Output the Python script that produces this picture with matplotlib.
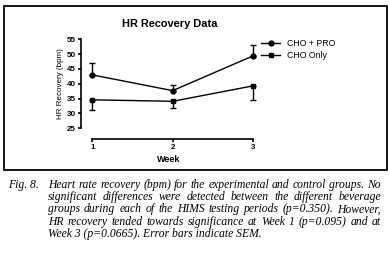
import matplotlib
matplotlib.use('Agg')
import matplotlib.pyplot as plt
from matplotlib.patches import Rectangle
from matplotlib.lines import Line2D

weeks = [1, 2, 3]
cho_pro = [43.0, 37.7, 49.4]
cho_pro_sem = [3.9, 2.0, 3.7]
cho_only = [34.6, 34.1, 39.3]
cho_only_sem = [3.4, 2.3, 4.7]

caption_lines = [
    "Heart rate recovery (bpm) for the experimental and control groups. No",
    "significant differences were detected between the different beverage",
    "groups during each of the HIMS testing periods (p=0.350). However,",
    "HR recovery tended towards significance at Week 1 (p=0.095) and at",
    "Week 3 (p=0.0665). Error bars indicate SEM.",
]

W, H = 389, 257
fig = plt.figure(figsize=(W / 100, H / 100), dpi=100)
plt.rcParams['font.family'] = ['Liberation Sans', 'DejaVu Sans']

# chart frame
fig.add_artist(Rectangle((4 / W, 1 - 170 / H), 383 / W, 164 / H, transform=fig.transFigure,
                         fill=False, lw=1.3, ec='black'))

ax = fig.add_axes([80.5 / W, 1 - 128.3 / H, 176.5 / W, 89 / H])
ax.errorbar(weeks, cho_pro, yerr=[[0, 0, 0], cho_pro_sem], color='black', marker='o',
            markersize=3.5, lw=1.0, capsize=2.5, elinewidth=1.0, capthick=1.0)
ax.errorbar(weeks, cho_only, yerr=[cho_only_sem, [0, 0, 0]], color='black', marker='s',
            markersize=3.5, lw=1.0, capsize=2.5, elinewidth=1.0, capthick=1.0)
ax.set_xlim(0.853, 3.05)
ax.set_ylim(25, 55)
ax.set_yticks([25, 30, 35, 40, 45, 50, 55])
ax.set_xticks(weeks)
for s in ['top', 'right']:
    ax.spines[s].set_visible(False)
ax.spines['left'].set_bounds(25, 55)
ax.spines['bottom'].set_bounds(1, 3)
ax.spines['bottom'].set_position(('outward', 8))
for s in ['left', 'bottom']:
    ax.spines[s].set_linewidth(1.2)
ax.tick_params(axis='both', length=2.5, width=1.2, pad=1, labelsize=5.8)
for lab in ax.get_xticklabels() + ax.get_yticklabels():
    lab.set_fontweight('bold')
ax.set_ylabel('HR Recovery (bpm)', fontsize=5.8, labelpad=2)
ax.set_xlabel('Week', fontsize=6.5, fontweight='bold', labelpad=3)

fig.text(170 / W, 1 - 24 / H, 'HR Recovery Data', ha='center', va='center',
         fontsize=7.9, fontweight='bold')

handles = [Line2D([], [], color='black', marker='o', markersize=3.5, lw=1.0),
           Line2D([], [], color='black', marker='s', markersize=3.5, lw=1.0)]
ax.legend(handles, ['CHO + PRO', 'CHO Only'], loc='upper left', bbox_to_anchor=(261 / W, 1 - 39 / H),
          bbox_transform=fig.transFigure, frameon=False, fontsize=6.3, borderpad=0,
          borderaxespad=0, handlelength=2.2, handletextpad=0.8, labelspacing=0.4)

# caption, justified
cap_size = 8.4
fig.text(8 / W, 1 - 185 / H, 'Fig. 8.', ha='left', va='center', family='Liberation Serif',
         style='italic', fontsize=cap_size)
renderer = fig.canvas.get_renderer()
x0, x1 = 48, 381
for i, line in enumerate(caption_lines):
    y = 1 - (185 + i * 12.2) / H
    words = line.split(' ')
    if i == len(caption_lines) - 1:
        fig.text(x0 / W, y, line, ha='left', va='center', family='Liberation Serif',
                 style='italic', fontsize=cap_size)
        continue
    texts = [fig.text(0, y, w, ha='left', va='center', family='Liberation Serif',
                      style='italic', fontsize=cap_size) for w in words]
    widths = [t.get_window_extent(renderer).width for t in texts]
    gap = (x1 - x0 - sum(widths)) / (len(words) - 1)
    x = x0
    for t, w in zip(texts, widths):
        t.set_x(x / W)
        x += w + gap

fig.savefig('out.png', dpi=100)
